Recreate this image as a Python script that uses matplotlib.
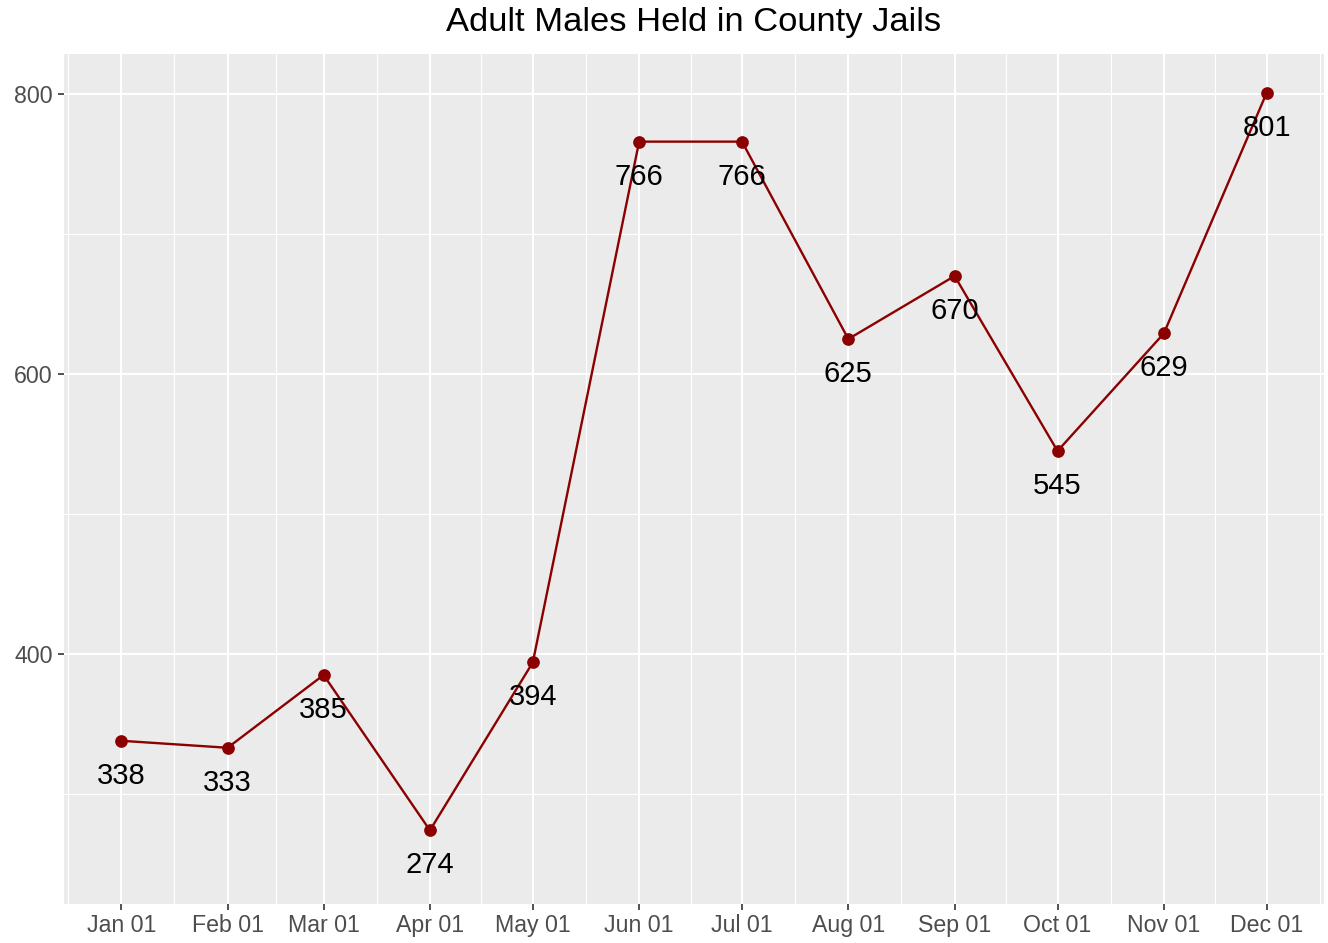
import numpy as np
import pandas as pd
import matplotlib
matplotlib.use('Agg')
import matplotlib.pyplot as plt
import matplotlib.dates as mdates

# monthly counts
months = ['2019-01-01', '2019-02-01', '2019-03-01', '2019-04-01', '2019-05-01', '2019-06-01',
          '2019-07-01', '2019-08-01', '2019-09-01', '2019-10-01', '2019-11-01', '2019-12-01']
males = [338, 333, 385, 274, 394, 766, 766, 625, 670, 545, 629, 801]
label_nudge = -25
title = 'Adult Males Held in County Jails'

dates = pd.to_datetime(months)
x = mdates.date2num(dates)

plt.rcParams['font.family'] = ['Liberation Sans', 'DejaVu Sans']

fig = plt.figure(figsize=(13.28, 9.43), dpi=100)
ax = fig.add_axes([64 / 1328, 1 - 904 / 943, (1324 - 64) / 1328, (904 - 54) / 943])
ax.set_facecolor('#EBEBEB')
for s in ax.spines.values():
    s.set_visible(False)

# ggplot-like expansion (labels included in y range)
xr = x.max() - x.min()
ax.set_xlim(x.min() - 0.05 * xr, x.max() + 0.05 * xr)
ylo = min(males) + label_nudge
yhi = max(males)
yr = yhi - ylo
ax.set_ylim(ylo - 0.05 * yr, yhi + 0.05 * yr)

# grid
ax.set_yticks([400, 600, 800])
ax.set_yticks([300, 500, 700], minor=True)
ax.set_xticks(x)
major = list(x)
ext = [mdates.date2num(pd.Timestamp('2018-12-01'))] + major + [mdates.date2num(pd.Timestamp('2020-01-01'))]
minor = [(a + b) / 2 for a, b in zip(ext[:-1], ext[1:])]
ax.set_xticks(minor, minor=True)
ax.grid(which='major', color='white', linewidth=1.5)
ax.grid(which='minor', color='white', linewidth=0.8)
ax.set_axisbelow(True)

ax.set_xticklabels([d.strftime('%b %d') for d in dates])
ax.tick_params(which='major', length=4, width=1.2, color='#333333', labelcolor='#4D4D4D',
               labelsize=16.7, pad=3)
ax.tick_params(axis='y', pad=4)
ax.tick_params(which='minor', length=0)

ax.plot(x, males, color='#8B0000', linewidth=1.7, zorder=3)
ax.scatter(x, males, color='#8B0000', s=66, zorder=4)
for xi, v in zip(x, males):
    ax.text(xi, v + label_nudge, str(v), ha='center', va='center', fontsize=21, color='black', zorder=5)

fig.text((64 + 1324) / 2 / 1328, 1 - 23 / 943, title, ha='center', va='center', fontsize=24.8)

fig.savefig('out.png', dpi=100)
